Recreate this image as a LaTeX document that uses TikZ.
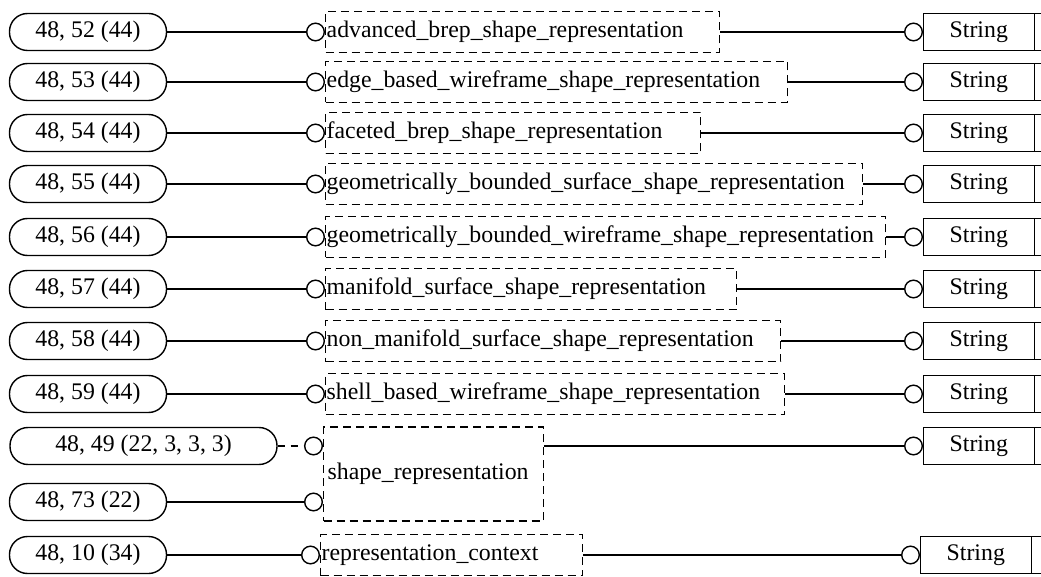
\documentclass[tikz,border=0pt]{standalone}
\usepackage{fontspec}
\setmainfont{Liberation Serif}
\usetikzlibrary{arrows.meta, positioning, shapes.multipart}

\begin{document}
\begin{tikzpicture}[
  x=1pt, y=-1pt,
  lbl/.style={font=\fontsize{23.8}{26}\selectfont},
  refbox/.style={lbl, draw, line width=1.4pt, rounded corners=18pt,
               minimum width=157pt, minimum height=37pt, inner sep=0pt},
  entbox/.style={lbl, draw, dash pattern=on 8pt off 5pt, line width=1.4pt,
               minimum height=41pt, inner xsep=1pt, align=left, anchor=west},
  strbox/.style={lbl, draw, line width=1.4pt, rectangle split,
               rectangle split horizontal, rectangle split parts=2,
               minimum height=37pt, inner xsep=26pt, inner ysep=0pt, anchor=west},
  rel/.style={line width=1.4pt, -{Circle[open, length=19pt, width=19pt]}},
  relopt/.style={rel, dash pattern=on 7pt off 6pt}
]
  \clip (0,0) rectangle (1041,577);

  \node[refbox] (r1) at (88,32) {48, 52 (44)};
  \node[entbox, text width=392pt] (e1) at (325,32) {advanced\_brep\_shape\_representation};
  \node[strbox] (t1) at (923,32) {String\nodepart{two}\hspace*{20pt}};

  \node[refbox] (r2) at (88,82) {48, 53 (44)};
  \node[entbox, text width=460pt] (e2) at (325,82) {edge\_based\_wireframe\_shape\_representation};
  \node[strbox] (t2) at (923,82) {String\nodepart{two}\hspace*{20pt}};

  \node[refbox] (r3) at (88,133) {48, 54 (44)};
  \node[entbox, text width=373pt] (e3) at (325,133) {faceted\_brep\_shape\_representation};
  \node[strbox] (t3) at (923,133) {String\nodepart{two}\hspace*{20pt}};

  \node[refbox] (r4) at (88,184) {48, 55 (44)};
  \node[entbox, text width=535pt] (e4) at (325,184) {geometrically\_bounded\_surface\_shape\_representation};
  \node[strbox] (t4) at (923,184) {String\nodepart{two}\hspace*{20pt}};

  \node[refbox] (r5) at (88,237) {48, 56 (44)};
  \node[entbox, text width=558pt] (e5) at (325,237) {geometrically\_bounded\_wireframe\_shape\_representation};
  \node[strbox] (t5) at (923,237) {String\nodepart{two}\hspace*{20pt}};

  \node[refbox] (r6) at (88,289) {48, 57 (44)};
  \node[entbox, text width=409pt] (e6) at (325,289) {manifold\_surface\_shape\_representation};
  \node[strbox] (t6) at (923,289) {String\nodepart{two}\hspace*{20pt}};

  \node[refbox] (r7) at (88,341) {48, 58 (44)};
  \node[entbox, text width=453pt] (e7) at (325,341) {non\_manifold\_surface\_shape\_representation};
  \node[strbox] (t7) at (923,341) {String\nodepart{two}\hspace*{20pt}};

  \node[refbox] (r8) at (88,394) {48, 59 (44)};
  \node[entbox, text width=457pt] (e8) at (325,394) {shell\_based\_wireframe\_shape\_representation};
  \node[strbox] (t8) at (923,394) {String\nodepart{two}\hspace*{20pt}};

  % shape_representation takes two references
  \node[refbox, minimum width=267pt] (r9) at (143.5,446) {48, 49 (22, 3, 3, 3)};
  \node[refbox] (r10) at (88,502) {48, 73 (22)};
  \node[entbox, text width=212pt, inner xsep=4pt, minimum height=94pt] (shp) at (323,474) {shape\_representation};
  \node[strbox] (t9) at (923,446) {String\nodepart{two}\hspace*{20pt}};

  \node[refbox] (r11) at (88,555) {48, 10 (34)};
  \node[entbox, text width=260pt] (e11) at (320,555) {representation\_context};
  \node[strbox] (t11) at (920,555) {String\nodepart{two}\hspace*{20pt}};

  \draw[rel] (r1) -- (e1);
  \draw[rel] (e1) -- (t1);
  \draw[rel] (r2) -- (e2);
  \draw[rel] (e2) -- (t2);
  \draw[rel] (r3) -- (e3);
  \draw[rel] (e3) -- (t3);
  \draw[rel] (r4) -- (e4);
  \draw[rel] (e4) -- (t4);
  \draw[rel] (r5) -- (e5);
  \draw[rel] (e5) -- (t5);
  \draw[rel] (r6) -- (e6);
  \draw[rel] (e6) -- (t6);
  \draw[rel] (r7) -- (e7);
  \draw[rel] (e7) -- (t7);
  \draw[rel] (r8) -- (e8);
  \draw[rel] (e8) -- (t8);
  \draw[relopt] (r9) -- (r9 -| shp.west);
  \draw[rel] (r10) -- (r10 -| shp.west);
  \draw[rel] (shp.east |- t9) -- (t9);
  \draw[rel] (r11) -- (e11);
  \draw[rel] (e11) -- (t11);
\end{tikzpicture}
\end{document}
